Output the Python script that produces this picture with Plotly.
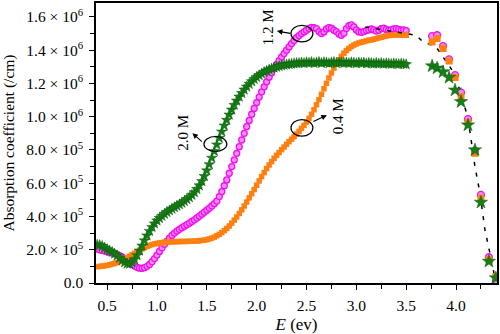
import plotly.graph_objects as go

# Photon energy grid of the dense (measured) part, eV
E_dense = [0.400, 0.425, 0.450, 0.475, 0.500, 0.525, 0.550, 0.575, 0.600, 0.625,
           0.650, 0.675, 0.700, 0.725, 0.750, 0.775, 0.800, 0.825, 0.850, 0.875,
           0.900, 0.925, 0.950, 0.975, 1.000, 1.025, 1.050, 1.075, 1.100, 1.125,
           1.150, 1.175, 1.200, 1.225, 1.250, 1.275, 1.300, 1.325, 1.350, 1.375,
           1.400, 1.425, 1.450, 1.475, 1.500, 1.525, 1.550, 1.575, 1.600, 1.625,
           1.650, 1.675, 1.700, 1.725, 1.750, 1.775, 1.800, 1.825, 1.850, 1.875,
           1.900, 1.925, 1.950, 1.975, 2.000, 2.025, 2.050, 2.075, 2.100, 2.125,
           2.150, 2.175, 2.200, 2.225, 2.250, 2.275, 2.300, 2.325, 2.350, 2.375,
           2.400, 2.425, 2.450, 2.475, 2.500, 2.525, 2.550, 2.575, 2.600, 2.625,
           2.650, 2.675, 2.700, 2.725, 2.750, 2.775, 2.800, 2.825, 2.850, 2.875,
           2.900, 2.925, 2.950, 2.975, 3.000, 3.025, 3.050, 3.075, 3.100, 3.125,
           3.150, 3.175, 3.200, 3.225, 3.250, 3.275, 3.300, 3.325, 3.350, 3.375,
           3.400, 3.425, 3.450, 3.475, 3.500]

# Absorption coefficient, units of 1e5 /cm
alpha_04M = [0.98, 1.00, 1.02, 1.04, 1.06, 1.10, 1.14, 1.18, 1.23, 1.29,
             1.36, 1.44, 1.52, 1.61, 1.70, 1.79, 1.88, 1.97, 2.05, 2.13,
             2.20, 2.26, 2.31, 2.35, 2.38, 2.41, 2.43, 2.45, 2.46, 2.47,
             2.48, 2.48, 2.49, 2.49, 2.50, 2.50, 2.50, 2.51, 2.51, 2.52,
             2.53, 2.54, 2.56, 2.58, 2.61, 2.65, 2.70, 2.76, 2.84, 2.93,
             3.03, 3.15, 3.28, 3.43, 3.60, 3.78, 3.97, 4.18, 4.40, 4.63,
             4.87, 5.12, 5.37, 5.62, 5.88, 6.14, 6.40, 6.64, 6.88, 7.10,
             7.30, 7.50, 7.68, 7.85, 8.02, 8.18, 8.34, 8.50, 8.65, 8.80,
             8.96, 9.12, 9.30, 9.48, 9.68, 9.90, 10.15, 10.42, 10.72, 11.03,
             11.35, 11.68, 12.01, 12.33, 12.63, 12.92, 13.18, 13.42, 13.63, 13.82,
             13.98, 14.11, 14.22, 14.31, 14.38, 14.44, 14.48, 14.52, 14.56, 14.60,
             14.62, 14.66, 14.70, 14.74, 14.78, 14.82, 14.86, 14.88, 14.90, 14.91,
             14.92, 14.92, 14.90, 14.91, 14.90]

alpha_12M = [2.05, 2.00, 1.96, 1.92, 1.88, 1.84, 1.80, 1.76, 1.71, 1.65,
             1.57, 1.47, 1.36, 1.24, 1.12, 1.02, 0.94, 0.89, 0.88, 0.92,
             1.00, 1.12, 1.28, 1.47, 1.68, 1.90, 2.12, 2.33, 2.52, 2.70,
             2.86, 3.00, 3.12, 3.23, 3.33, 3.42, 3.51, 3.60, 3.70, 3.80,
             3.91, 4.02, 4.14, 4.26, 4.38, 4.50, 4.63, 4.77, 4.93, 5.20,
             5.50, 5.85, 6.20, 6.60, 7.00, 7.40, 7.80, 8.20, 8.60, 9.00,
             9.40, 9.78, 10.15, 10.50, 10.85, 11.18, 11.50, 11.80, 12.10, 12.38,
             12.65, 12.90, 13.15, 13.38, 13.60, 13.80, 14.00, 14.20, 14.40, 14.58,
             14.75, 14.88, 15.00, 15.10, 15.20, 15.30, 15.38, 15.35, 15.30, 15.12,
             15.00, 15.10, 15.28, 15.36, 15.32, 15.20, 15.12, 14.98, 14.90, 15.02,
             15.30, 15.48, 15.52, 15.40, 15.22, 15.10, 15.08, 15.12, 15.18, 15.22,
             15.28, 15.22, 15.15, 15.20, 15.30, 15.32, 15.25, 15.20, 15.22, 15.28,
             15.30, 15.25, 15.20, 15.22, 15.18]

alpha_20M = [2.30, 2.28, 2.22, 2.12, 2.02, 1.94, 1.86, 1.76, 1.64, 1.50,
             1.36, 1.24, 1.16, 1.15, 1.24, 1.42, 1.66, 1.94, 2.24, 2.55,
             2.85, 3.12, 3.36, 3.57, 3.75, 3.90, 4.03, 4.15, 4.26, 4.36,
             4.46, 4.55, 4.64, 4.73, 4.82, 4.92, 5.03, 5.15, 5.29, 5.45,
             5.64, 5.86, 6.12, 6.42, 6.76, 7.13, 7.52, 7.92, 8.32, 8.72,
             9.10, 9.46, 9.80, 10.12, 10.42, 10.70, 10.96, 11.20, 11.42, 11.62,
             11.80, 11.97, 12.12, 12.26, 12.38, 12.49, 12.59, 12.68, 12.76, 12.83,
             12.89, 12.95, 13.00, 13.04, 13.08, 13.11, 13.14, 13.16, 13.18, 13.20,
             13.22, 13.23, 13.25, 13.22, 13.27, 13.24, 13.28, 13.22, 13.26, 13.29,
             13.23, 13.27, 13.25, 13.21, 13.26, 13.28, 13.22, 13.25, 13.27, 13.23,
             13.26, 13.22, 13.27, 13.24, 13.21, 13.26, 13.23, 13.25, 13.20, 13.24,
             13.22, 13.19, 13.23, 13.20, 13.22, 13.18, 13.21, 13.19, 13.17, 13.20,
             13.18, 13.16, 13.19, 13.17, 13.15]

# Sparse high-energy tail
E_tail = [3.76, 3.81, 3.87, 3.93, 3.99, 4.05, 4.12, 4.19, 4.25, 4.33, 4.40]
tail_04M = [14.50, 14.70, 14.10, 13.35, 12.36, 11.20, 9.65, 7.80, 5.10, 1.40, 0.38]
tail_12M = [14.85, 14.90, 14.25, 13.45, 12.50, 11.45, 9.85, 7.95, 5.30, 1.55, 0.15]
tail_20M = [13.05, 12.92, 12.70, 12.36, 11.60, 10.90, 9.50, 8.00, 4.85, 1.30, 0.30]

# Dashed guide line through the tail
E_guide = [3.09, 3.60, 3.67, 3.80, 3.95, 4.04, 4.12, 4.19, 4.24, 4.29, 4.34, 4.38, 4.41]
guide = [15.40, 14.90, 14.50, 14.20, 12.90, 11.60, 9.90, 7.00, 5.40, 3.20, 1.80, 0.60, 0.00]

y_ticks = [0, 2, 4, 6, 8, 10, 12, 14, 16]
y_ticktext = ["0.0", "2.0 × 10<sup>5</sup>", "4.0 × 10<sup>5</sup>", "6.0 × 10<sup>5</sup>",
              "8.0 × 10<sup>5</sup>", "1.0 × 10<sup>6</sup>", "1.2 × 10<sup>6</sup>",
              "1.4 × 10<sup>6</sup>", "1.6 × 10<sup>6</sup>"]
x_ticks = [0.5, 1.0, 1.5, 2.0, 2.5, 3.0, 3.5, 4.0]
x_ticktext = ["0.5", "1.0", "1.5", "2.0", "2.5", "3.0", "3.5", "4.0"]

SERIF = "Liberation Serif"
ORANGE = "#FF8010"
MAGENTA = "#F010F0"
GREEN = "#167E16"

def scale(v):
    return [a * 1e5 for a in v]

fig = go.Figure()

sq = dict(symbol="square", size=5.5, color=ORANGE, line=dict(width=0))
ci = dict(symbol="circle", size=6, color="#F58AF5", line=dict(width=1.3, color=MAGENTA))
st = dict(symbol="star", size=8, color=GREEN, line=dict(width=0.5, color="#0B5E0B"))

fig.add_trace(go.Scatter(x=E_dense, y=scale(alpha_12M), mode="markers", marker=ci, showlegend=False))
fig.add_trace(go.Scatter(x=E_dense, y=scale(alpha_04M), mode="markers", marker=sq, showlegend=False))
fig.add_trace(go.Scatter(x=E_dense, y=scale(alpha_20M), mode="markers", marker=st, showlegend=False))

fig.add_trace(go.Scatter(x=E_guide, y=scale(guide), mode="lines",
                         line=dict(color="black", width=1.5, dash="4px,7px"), showlegend=False))

fig.add_trace(go.Scatter(x=E_tail, y=scale(tail_12M), mode="markers", marker=dict(ci, size=7), showlegend=False))
fig.add_trace(go.Scatter(x=E_tail, y=scale(tail_04M), mode="markers", marker=dict(sq, size=7), showlegend=False))
fig.add_trace(go.Scatter(x=E_tail, y=scale(tail_20M), mode="markers", marker=dict(st, size=10), showlegend=False))

# Ellipses marking curves
for (x0, x1, y0, y1) in [(1.471, 1.701, 7.91e5, 8.81e5),
                         (2.344, 2.564, 14.5e5, 15.5e5),
                         (2.344, 2.564, 8.83e5, 9.83e5)]:
    fig.add_shape(type="circle", xref="x", yref="y", x0=x0, x1=x1, y0=y0, y1=y1,
                  line=dict(color="black", width=1.2))

# Arrows
for (tx, ty, hx, hy) in [(1.465, 8.42e5, 1.355, 9.01e5),
                         (2.354, 15.0e5, 2.203, 15.15e5),
                         (2.554, 9.67e5, 2.704, 10.09e5)]:
    fig.add_annotation(x=hx, y=hy, ax=tx, ay=ty, xref="x", yref="y", axref="x", ayref="y",
                       showarrow=True, arrowhead=2, arrowsize=1, arrowwidth=1.1,
                       arrowcolor="black", text="")

for (txt, x, y) in [("2.0 M", 1.266, 9.01e5), ("1.2 M", 2.116, 15.4e5), ("0.4 M", 2.817, 10.03e5)]:
    fig.add_annotation(x=x, y=y, xref="x", yref="y", text=txt, showarrow=False,
                       textangle=-90, font=dict(family=SERIF, size=15, color="black"))

fig.update_layout(
    width=500, height=334,
    margin=dict(l=96, r=3, t=1, b=51),
    paper_bgcolor="white", plot_bgcolor="white",
    font=dict(family=SERIF, size=16, color="black"),
    xaxis=dict(range=[0.388, 4.411], tickvals=x_ticks, ticktext=x_ticktext,
               ticks="outside", ticklen=5, tickwidth=1.2, tickcolor="black",
               minor=dict(dtick=0.25, tick0=0.25, ticks="outside", ticklen=4, tickcolor="black", tickwidth=1),
               showline=True, linecolor="black", linewidth=1.5, mirror=True,
               showgrid=False, zeroline=False, ticklabelstandoff=3,
               title=dict(text="<i>E</i> (ev)", font=dict(family=SERIF, size=17), standoff=6),
               tickfont=dict(family=SERIF, size=15.5)),
    yaxis=dict(range=[0, 16.84e5], tickvals=[v * 1e5 for v in y_ticks], ticktext=y_ticktext,
               ticks="outside", ticklen=5, tickwidth=1.2, tickcolor="black",
               minor=dict(dtick=1e5, tick0=0, ticks="outside", ticklen=4, tickcolor="black", tickwidth=1),
               showline=True, linecolor="black", linewidth=1.5, mirror=True,
               showgrid=False, zeroline=False, ticklabelstandoff=3,
               title=dict(text="Absorption coefficient (/cm)", font=dict(family=SERIF, size=15.5), standoff=8),
               tickfont=dict(family=SERIF, size=15.5)),
)

fig.write_html("out.html")
